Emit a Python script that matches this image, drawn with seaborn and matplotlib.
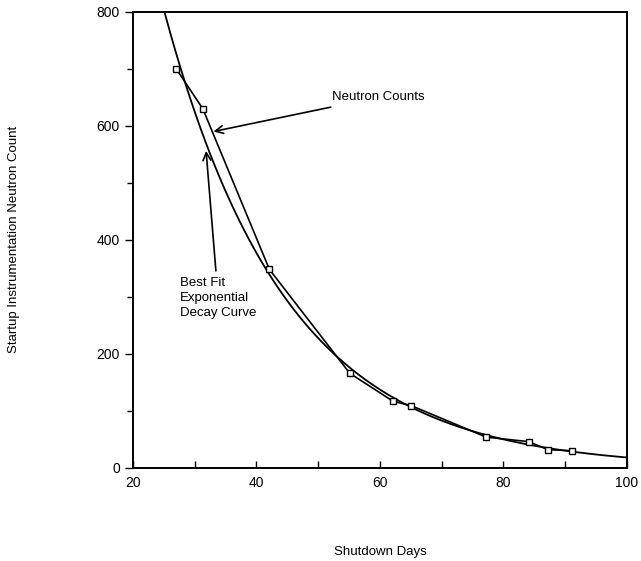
import numpy as np
import pandas as pd
import matplotlib.pyplot as plt
import seaborn as sns

# readings
shutdown_days = [27.0, 31.3, 42.1, 55.1, 62.1, 65.1, 77.2, 84.1, 87.2, 91.1]
neutron_counts = [700, 630, 348, 166, 117, 109, 54, 46, 32, 30]
x_ticks = [20, 40, 60, 80, 100]
y_ticks = [0, 200, 400, 600, 800]

df = pd.DataFrame({"days": shutdown_days, "counts": neutron_counts})

# best fit exponential: linear fit on log(counts)
beta = np.polyfit(df["days"], np.log(df["counts"]), deg=1)
fit_days = np.linspace(20, 100, 200)
fit = pd.DataFrame({"days": fit_days, "counts": np.exp(beta[1] + beta[0] * fit_days)})

sns.set_style("ticks")
plt.rcParams["font.family"] = ["Liberation Sans", "DejaVu Sans"]
plt.rcParams["text.color"] = "black"
plt.rcParams["axes.labelcolor"] = "black"
plt.rcParams["xtick.color"] = "black"
plt.rcParams["ytick.color"] = "black"

fig = plt.figure(figsize=(6.41, 5.61), dpi=100)
ax = fig.add_axes([0.2075, 0.166, 0.7705, 0.813])

sns.lineplot(data=fit, x="days", y="counts", color="black", linewidth=1.3, ax=ax)
sns.lineplot(data=df, x="days", y="counts", sort=False, estimator=None, color="black",
             linewidth=1.2, marker="s", markersize=5, markerfacecolor="white",
             markeredgecolor="black", markeredgewidth=1.0, ax=ax)

ax.set_xlim(20, 100)
ax.set_ylim(0, 800)
ax.set_xticks(x_ticks)
ax.set_xticks(np.arange(20, 101, 10), minor=True)
ax.set_yticks(y_ticks)
ax.set_yticks(np.arange(0, 801, 100), minor=True)
ax.tick_params(axis="x", which="both", direction="in", length=5, width=1, labelsize=10, pad=6)
ax.tick_params(axis="y", which="major", direction="out", length=6, width=1, labelsize=10)
ax.tick_params(axis="y", which="minor", direction="out", length=4, width=1)
for s in ax.spines.values():
    s.set_visible(True)
    s.set_color("black")
    s.set_linewidth(1.4)

ax.set_xlabel("Shutdown Days", fontsize=9.5)
ax.set_ylabel("Startup Instrumentation Neutron Count", fontsize=9.5)
ax.xaxis.set_label_coords(0.5, -0.172)
ax.yaxis.set_label_coords(-0.229, 0.5)

arrow = dict(arrowstyle="->", color="black", linewidth=1.2, mutation_scale=14)
ax.annotate("Neutron Counts", xy=(32.6, 589), xytext=(52.2, 650), fontsize=9.5,
            ha="left", va="center", arrowprops=arrow)
ax.annotate("Best Fit\nExponential\nDecay Curve", xy=(31.8, 561), xytext=(27.6, 335),
            fontsize=9.5, ha="left", va="top", linespacing=1.35, arrowprops=arrow)

plt.savefig("out.png", dpi=100)
